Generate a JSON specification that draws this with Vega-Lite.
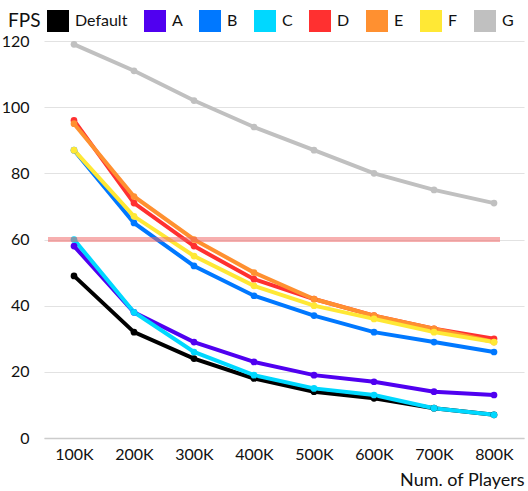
{
  "$schema": "https://vega.github.io/schema/vega-lite/v6.json",
  "width": 480,
  "height": 397,
  "autosize": "none",
  "padding": {"left": 44, "top": 41, "right": 4, "bottom": 53},
  "background": "white",
  "config": {
    "font": "Lato",
    "view": {"stroke": null},
    "axis": {"labelFont": "Lato", "titleFont": "Lato", "labelColor": "#111", "titleColor": "#111"}
  },
  "data": {
    "values": [
      {"s": "Default", "p": "100K", "v": 49}, {"s": "Default", "p": "200K", "v": 32}, {"s": "Default", "p": "300K", "v": 24}, {"s": "Default", "p": "400K", "v": 18}, {"s": "Default", "p": "500K", "v": 14}, {"s": "Default", "p": "600K", "v": 12}, {"s": "Default", "p": "700K", "v": 9}, {"s": "Default", "p": "800K", "v": 7},
      {"s": "A", "p": "100K", "v": 58}, {"s": "A", "p": "200K", "v": 38}, {"s": "A", "p": "300K", "v": 29}, {"s": "A", "p": "400K", "v": 23}, {"s": "A", "p": "500K", "v": 19}, {"s": "A", "p": "600K", "v": 17}, {"s": "A", "p": "700K", "v": 14}, {"s": "A", "p": "800K", "v": 13},
      {"s": "B", "p": "100K", "v": 87}, {"s": "B", "p": "200K", "v": 65}, {"s": "B", "p": "300K", "v": 52}, {"s": "B", "p": "400K", "v": 43}, {"s": "B", "p": "500K", "v": 37}, {"s": "B", "p": "600K", "v": 32}, {"s": "B", "p": "700K", "v": 29}, {"s": "B", "p": "800K", "v": 26},
      {"s": "C", "p": "100K", "v": 60}, {"s": "C", "p": "200K", "v": 38}, {"s": "C", "p": "300K", "v": 26}, {"s": "C", "p": "400K", "v": 19}, {"s": "C", "p": "500K", "v": 15}, {"s": "C", "p": "600K", "v": 13}, {"s": "C", "p": "700K", "v": 9}, {"s": "C", "p": "800K", "v": 7},
      {"s": "D", "p": "100K", "v": 96}, {"s": "D", "p": "200K", "v": 71}, {"s": "D", "p": "300K", "v": 58}, {"s": "D", "p": "400K", "v": 48}, {"s": "D", "p": "500K", "v": 42}, {"s": "D", "p": "600K", "v": 37}, {"s": "D", "p": "700K", "v": 33}, {"s": "D", "p": "800K", "v": 30},
      {"s": "E", "p": "100K", "v": 95}, {"s": "E", "p": "200K", "v": 73}, {"s": "E", "p": "300K", "v": 60}, {"s": "E", "p": "400K", "v": 50}, {"s": "E", "p": "500K", "v": 42}, {"s": "E", "p": "600K", "v": 37}, {"s": "E", "p": "700K", "v": 33}, {"s": "E", "p": "800K", "v": 29},
      {"s": "F", "p": "100K", "v": 87}, {"s": "F", "p": "200K", "v": 67}, {"s": "F", "p": "300K", "v": 55}, {"s": "F", "p": "400K", "v": 46}, {"s": "F", "p": "500K", "v": 40}, {"s": "F", "p": "600K", "v": 36}, {"s": "F", "p": "700K", "v": 32}, {"s": "F", "p": "800K", "v": 29},
      {"s": "G", "p": "100K", "v": 119}, {"s": "G", "p": "200K", "v": 111}, {"s": "G", "p": "300K", "v": 102}, {"s": "G", "p": "400K", "v": 94}, {"s": "G", "p": "500K", "v": 87}, {"s": "G", "p": "600K", "v": 80}, {"s": "G", "p": "700K", "v": 75}, {"s": "G", "p": "800K", "v": 71}
    ]
  },
  "layer": [
    {
      "mark": {"type": "line", "strokeWidth": 4, "point": {"filled": true, "size": 45}},
      "encoding": {
        "x": {
          "field": "p", "type": "ordinal", "sort": null,
          "scale": {"type": "point", "padding": 0.5},
          "axis": {
            "title": "Num. of Players", "titleAnchor": "end", "titleFontSize": 18, "titleFontWeight": "normal",
            "titlePadding": 9, "labelFontSize": 16, "labelAngle": 0, "labelPadding": 8,
            "ticks": false, "domainColor": "#cccccc", "domainWidth": 1.5, "grid": false
          }
        },
        "y": {
          "field": "v", "type": "quantitative",
          "scale": {"domain": [0, 120], "nice": false},
          "axis": {
            "title": null, "values": [0, 20, 40, 60, 80, 100, 120], "labelFontSize": 16, "labelPadding": 15,
            "ticks": false, "domain": false, "gridColor": "#e2e2e2", "gridWidth": 1.2
          }
        },
        "color": {
          "field": "s", "type": "nominal", "sort": null,
          "scale": {
            "domain": ["Default", "A", "B", "C", "D", "E", "F", "G"],
            "range": ["#000000", "#5000F0", "#0078FF", "#00D8FF", "#FF3030", "#FF9030", "#FFE835", "#C0C0C0"]
          },
          "legend": {
            "orient": "none", "legendX": -36, "legendY": -31, "direction": "horizontal",
            "title": "FPS", "titleOrient": "left", "titleFontSize": 19, "titleFontWeight": "normal", "titleColor": "#111", "titlePadding": 6,
            "symbolType": "square", "symbolSize": 484, "symbolStrokeWidth": 0, "symbolOpacity": 1,
            "labelFontSize": 16, "labelColor": "#111", "labelOffset": 6, "columnPadding": 16
          }
        }
      }
    },
    {
      "data": {"values": [{"y": 60, "a": "100K", "b": "800K"}]},
      "mark": {"type": "rule", "color": "#F06060", "opacity": 0.5, "strokeWidth": 5, "xOffset": -26, "x2Offset": 6},
      "encoding": {
        "y": {"field": "y", "type": "quantitative"},
        "x": {"field": "a", "type": "ordinal"},
        "x2": {"field": "b"}
      }
    }
  ]
}
